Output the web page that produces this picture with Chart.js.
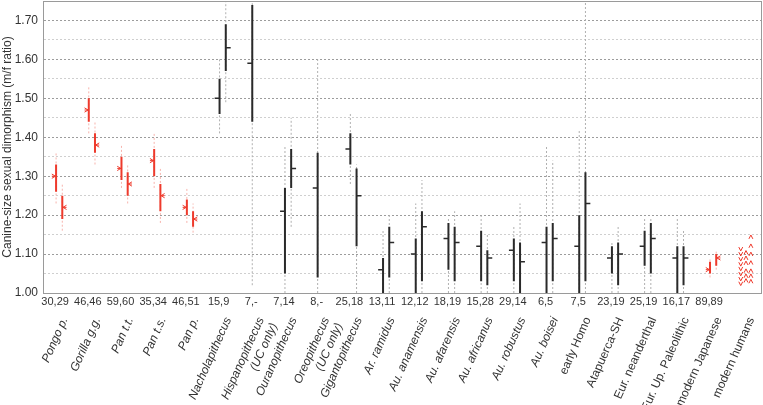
<!DOCTYPE html>
<html>
<head>
<meta charset="utf-8">
<script src="https://cdn.jsdelivr.net/npm/chart.js@4.4.1/dist/chart.umd.min.js"></script>
<style>
  html, body { margin: 0; padding: 0; background: #fff; }
  #wrap { width: 763px; height: 405px; }
</style>
</head>
<body>
<div id="wrap"><canvas id="chart" width="763" height="405"></canvas></div>
<script>
// taxa and sample sizes (UC,LC)
var taxa = ['Pongo p.', 'Gorilla g.g.', 'Pan t.t.', 'Pan t.s.', 'Pan p.', 'Nacholapithecus',
  ['Hispanopithecus', '(UC only)'], 'Ouranopithecus', ['Oreopithecus', '(UC only)'], 'Gigantopithecus',
  'Ar. ramidus', 'Au. anamensis', 'Au. afarensis', 'Au. africanus', 'Au. robustus', 'Au. boisei',
  'early Homo', 'Atapuerca-SH', 'Eur. neanderthal', 'Eur. Up. Paleolithic', 'modern Japanese', 'modern humans'];
var sampleSizes = ['30,29', '46,46', '59,60', '35,34', '46,51', '15,9', '7,-', '7,14', '8,-', '25,18',
  '13,11', '12,12', '18,19', '15,28', '29,14', '6,5', '7,5', '23,19', '25,19', '16,17', '89,89', ''];

// upper canine ratio: point estimate, interval (thick line), range (dotted line)
var ucMean  = [1.30, 1.47, 1.32, 1.34, 1.22, 1.50, 1.59, 1.21, 1.27, 1.37, 1.06, 1.10, 1.14, 1.12, 1.11, 1.13, 1.12, 1.09, 1.12, 1.09, 1.06, null];
var ucLow   = [1.26, 1.44, 1.29, 1.30, 1.20, 1.46, 1.44, 1.05, 1.04, 1.33, 1.00, 1.00, 1.06, 1.03, 1.03, 1.00, 1.00, 1.05, 1.07, 1.00, 1.05, null];
var ucHigh  = [1.33, 1.50, 1.35, 1.37, 1.24, 1.55, 1.74, 1.27, 1.36, 1.41, 1.09, 1.14, 1.18, 1.16, 1.14, 1.17, 1.20, 1.12, 1.16, 1.12, 1.08, null];
var ucMin   = [1.23, 1.41, 1.27, 1.27, 1.18, 1.41, 1.02, 1.00, 1.00, 1.28, 1.00, 1.00, 1.00, 1.00, 1.00, 1.00, 1.00, 1.00, 1.00, 1.00, 1.04, null];
var ucMax   = [1.36, 1.53, 1.38, 1.41, 1.27, 1.60, 1.75, 1.38, 1.60, 1.46, 1.16, 1.23, 1.19, 1.20, 1.17, 1.38, 1.42, 1.13, 1.19, 1.19, 1.09, null];

// lower canine ratio
var lcMean  = [1.22, 1.38, 1.28, 1.25, 1.19, 1.63, null, 1.32, null, 1.25, 1.13, 1.17, 1.13, 1.09, 1.08, 1.14, 1.23, 1.10, 1.14, 1.09, 1.09, null];
var lcLow   = [1.19, 1.36, 1.25, 1.21, 1.17, 1.57, null, 1.27, null, 1.12, 1.04, 1.03, 1.03, 1.02, 1.00, 1.03, 1.03, 1.02, 1.05, 1.02, 1.07, null];
var lcHigh  = [1.25, 1.41, 1.31, 1.28, 1.21, 1.69, null, 1.37, null, 1.32, 1.17, 1.21, 1.17, 1.11, 1.13, 1.18, 1.31, 1.13, 1.18, 1.12, 1.10, null];
var lcMin   = [1.16, 1.33, 1.23, 1.18, 1.155, 1.49, null, 1.17, null, 1.00, 1.00, 1.00, 1.00, 1.00, 1.00, 1.00, 1.00, 1.00, 1.00, 1.00, 1.06, null];
var lcMax   = [1.28, 1.44, 1.33, 1.32, 1.23, 1.75, null, 1.45, null, 1.33, 1.20, 1.29, 1.21, 1.15, 1.23, 1.34, 1.75, 1.17, 1.19, 1.16, 1.11, null];

// modern human population ratios (last column)
var modernUC  = [1.024, 1.036, 1.049, 1.062, 1.074, 1.087, 1.100, 1.113];
var modernLCa = [1.032, 1.044, 1.057, 1.077, 1.090, 1.104];
var modernLCb = [1.030, 1.044, 1.057, 1.078, 1.100, 1.121, 1.144];

var yTicks = [1.00, 1.10, 1.20, 1.30, 1.40, 1.50, 1.60, 1.70];
var redTaxa = [0, 1, 2, 3, 4, 20, 21];
var italicCount = 16;

var UC_OFF = 0.03, LC_OFF = 0.22, TICK = 0.15;
var RED = '#ee3a2c', RED_LIGHT = '#f7b3ac', DARK = '#2a2a2a', GREY = '#b0b0b0';
var FONT = "'Liberation Sans', Arial, Helvetica, sans-serif";

function isRed(i) { return redTaxa.indexOf(i) >= 0; }

function vSegs(lo, hi, off, red) {
  var pts = [];
  for (var i = 0; i < taxa.length; i++) {
    if (lo[i] == null || isRed(i) !== red) continue;
    pts.push({x: i + off, y: lo[i]}, {x: i + off, y: hi[i]}, {x: i + off, y: null});
  }
  return pts;
}
function meanTicks(mean, off, dir) {
  var pts = [];
  for (var i = 0; i < taxa.length; i++) {
    if (mean[i] == null || isRed(i)) continue;
    pts.push({x: i + off, y: mean[i]}, {x: i + off + dir * TICK, y: mean[i]}, {x: i + off, y: null});
  }
  return pts;
}
function chevron(pts, x, y, dir) {
  // small arrow-like marker pointing at the line
  var w = dir * 0.13, h = 0.0055;
  pts.push({x: x + w, y: y + h}, {x: x + dir * 0.02, y: y}, {x: x + w, y: y - h}, {x: x, y: null});
  pts.push({x: x + w, y: y}, {x: x, y: y}, {x: x, y: null});
}
function vee(pts, x, y, up) {
  var w = 0.06, h = up ? -0.005 : 0.005;
  pts.push({x: x - w, y: y + h}, {x: x, y: y - h}, {x: x + w, y: y + h}, {x: x, y: null});
}
function redMarkers() {
  var pts = [];
  for (var i = 0; i < taxa.length; i++) {
    if (!isRed(i)) continue;
    if (ucMean[i] != null) chevron(pts, i + UC_OFF, ucMean[i], -1);
    if (lcMean[i] != null) chevron(pts, i + LC_OFF, lcMean[i], 1);
  }
  var m = taxa.length - 1;
  modernUC.forEach(function (v) { vee(pts, m - 0.03, v, false); });
  modernLCa.forEach(function (v) { vee(pts, m + 0.13, v, true); });
  modernLCb.forEach(function (v) { vee(pts, m + 0.28, v, true); });
  return pts;
}

function seg(data, color, width, order, dash) {
  return {
    type: 'line', data: data, borderColor: color, borderWidth: width, borderDash: dash || [],
    order: order, pointRadius: 0, spanGaps: false, fill: false, tension: 0, borderCapStyle: 'butt'
  };
}

var framePlugin = {
  id: 'frame',
  afterDraw: function (chart) {
    var a = chart.chartArea, ctx = chart.ctx;
    ctx.save();
    ctx.strokeStyle = '#9a9a9a';
    ctx.lineWidth = 1;
    ctx.strokeRect(Math.round(a.left) + 0.5, Math.round(a.top) + 0.5, Math.round(a.right - a.left) - 1, Math.round(a.bottom - a.top));
    ctx.restore();
  }
};

var catTicks = function (axis) { axis.ticks = taxa.map(function (t, i) { return {value: i}; }); };

new Chart(document.getElementById('chart'), {
  data: {
    datasets: [
      seg(vSegs(ucMin, ucMax, UC_OFF, false).concat(vSegs(lcMin, lcMax, LC_OFF, false)), GREY, 1, 4, [2, 2]),
      seg(vSegs(ucMin, ucMax, UC_OFF, true).concat(vSegs(lcMin, lcMax, LC_OFF, true)), RED_LIGHT, 1, 4, [2, 2]),
      seg(vSegs(ucLow, ucHigh, UC_OFF, false).concat(vSegs(lcLow, lcHigh, LC_OFF, false)), DARK, 2, 3),
      seg(vSegs(ucLow, ucHigh, UC_OFF, true).concat(vSegs(lcLow, lcHigh, LC_OFF, true)), RED, 2, 3),
      seg(meanTicks(ucMean, UC_OFF, -1).concat(meanTicks(lcMean, LC_OFF, 1)), DARK, 1.5, 1),
      seg(redMarkers(), RED, 1, 1)
    ]
  },
  options: {
    responsive: false,
    animation: false,
    devicePixelRatio: 1,
    layout: {padding: {top: 1, right: 1, left: 0, bottom: 0}},
    plugins: {legend: {display: false}, tooltip: {enabled: false}},
    scales: {
      x: {
        type: 'linear', position: 'bottom', min: -0.37, max: 21.62, weight: 0,
        afterBuildTicks: catTicks,
        afterFit: function (axis) { axis.height = 14; axis.paddingLeft = 0; axis.paddingRight = 0; },
        grid: {display: false, drawTicks: false},
        border: {display: false},
        ticks: {
          autoSkip: false, maxRotation: 0, minRotation: 0, padding: 2,
          color: '#333', font: {family: FONT, size: 11},
          callback: function (v) { return sampleSizes[v]; }
        }
      },
      names: {
        type: 'linear', position: 'bottom', min: -0.67, max: 21.32, weight: 1,
        afterBuildTicks: catTicks,
        afterFit: function (axis) { axis.height = 98; axis.paddingLeft = 0; axis.paddingRight = 0; },
        grid: {display: false, drawTicks: false},
        border: {display: false},
        ticks: {
          autoSkip: false, maxRotation: 66, minRotation: 66, padding: 8,
          color: '#333',
          font: function (ctx) {
            return {family: FONT, size: 12, style: ctx.index < italicCount ? 'italic' : 'normal'};
          },
          callback: function (v) { return taxa[v]; }
        }
      },
      y: {
        type: 'linear', min: 1.00, max: 1.75,
        afterBuildTicks: function (axis) {
          var t = [];
          for (var k = 0; k < 15; k++) t.push({value: 1 + k * 0.05});
          axis.ticks = t;
        },
        afterFit: function (axis) { axis.width = 43; axis.paddingTop = 0; axis.paddingBottom = 0; },
        grid: {
          drawTicks: false,
          color: function (ctx) {
            if (!ctx.tick || ctx.tick.value <= 1.001) return 'rgba(0,0,0,0)';
            var major = yTicks.some(function (t) { return Math.abs(t - ctx.tick.value) < 0.001; });
            return major ? '#9c9c9c' : '#cfcfcf';
          }
        },
        border: {display: true, color: '#9a9a9a', dash: [2, 2]},
        title: {
          display: true, text: 'Canine-size sexual dimorphism (m/f ratio)',
          color: '#333', font: {family: FONT, size: 12}, padding: {top: 0, bottom: 1}
        },
        ticks: {
          color: '#333', font: {family: FONT, size: 12}, padding: 5,
          callback: function (v) {
            var hit = yTicks.filter(function (t) { return Math.abs(t - v) < 0.001; });
            return hit.length ? hit[0].toFixed(2) : '';
          }
        }
      }
    }
  },
  plugins: [framePlugin]
});
</script>
</body>
</html>
